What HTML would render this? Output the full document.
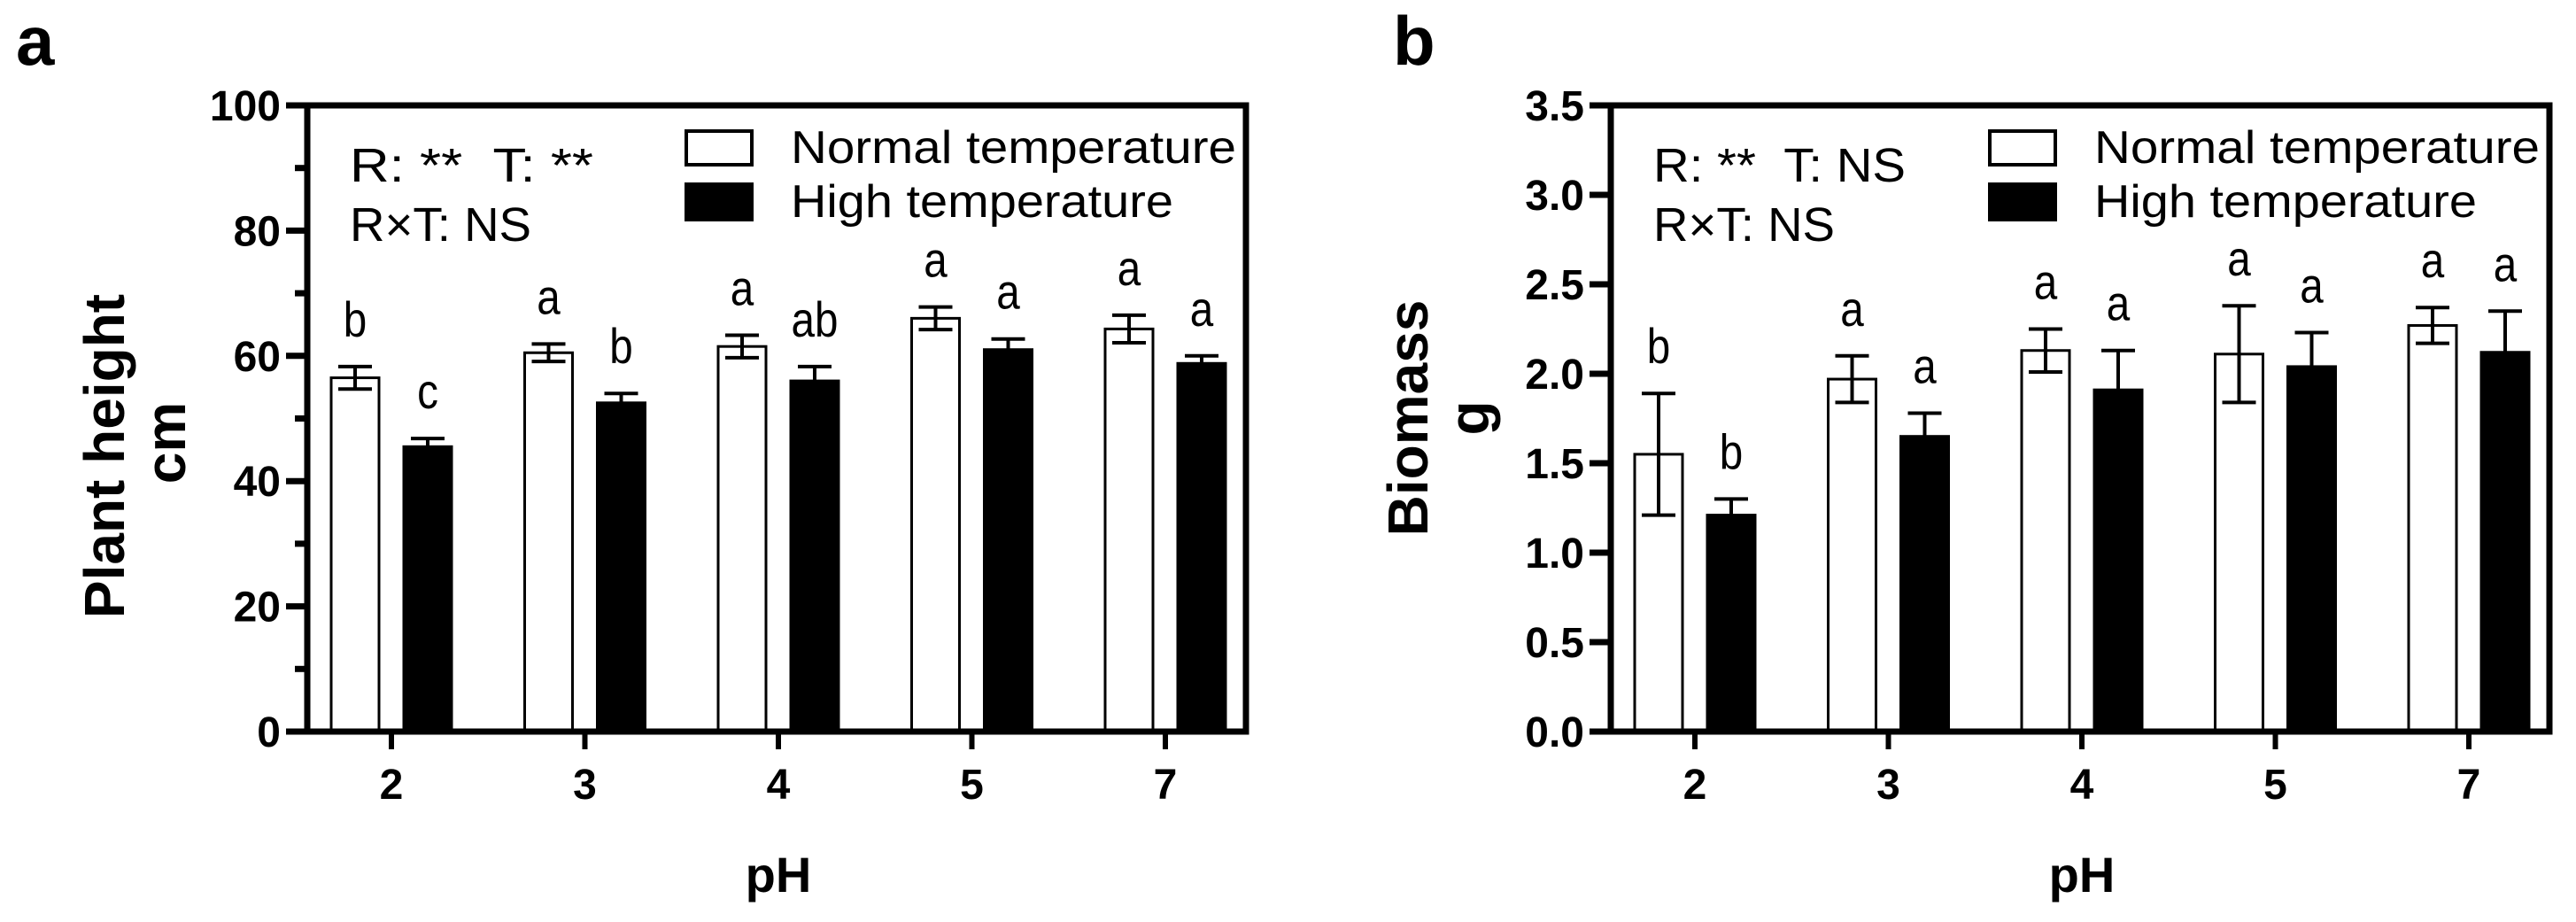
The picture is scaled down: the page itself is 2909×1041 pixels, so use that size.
<!DOCTYPE html>
<html><head><meta charset="utf-8"><style>
html,body{margin:0;padding:0;background:#fff;}
svg{display:block;}
text{font-family:"Liberation Sans",Arial,sans-serif;fill:#000;}
</style></head><body>
<svg id="fig" width="2909" height="1041" viewBox="0 0 2909 1041" xmlns="http://www.w3.org/2000/svg"></svg>
<script>
const categories = ["2","3","4","5","7"];
const heightNormal = [56.5, 60.5, 61.5, 66.0, 64.3];
const heightNormalErr = [1.8, 1.4, 1.8, 1.8, 2.2];
const heightHigh = [45.5, 52.5, 56.0, 61.0, 58.8];
const heightHighErr = [1.3, 1.5, 2.3, 1.7, 1.2];
const heightNormalLetters = ["b","a","a","a","a"];
const heightHighLetters = ["c","b","ab","a","a"];
const heightTicks = [0,20,40,60,80,100];
const biomassNormal = [1.55, 1.97, 2.13, 2.11, 2.27];
const biomassNormalErr = [0.34, 0.13, 0.12, 0.27, 0.10];
const biomassHigh = [1.21, 1.65, 1.91, 2.04, 2.12];
const biomassHighErr = [0.09, 0.13, 0.22, 0.19, 0.23];
const biomassNormalLetters = ["b","a","a","a","a"];
const biomassHighLetters = ["b","a","a","a","a"];
const biomassTicks = [0,0.5,1.0,1.5,2.0,2.5,3.0,3.5];

const NS="http://www.w3.org/2000/svg";
const svg=document.getElementById('fig');
function mk(tag,attrs,parent){const e=document.createElementNS(NS,tag);for(const k in attrs)e.setAttribute(k,attrs[k]);(parent||svg).appendChild(e);return e;}
function txt(s,attrs,parent){const e=mk('text',attrs,parent);e.textContent=s;return e;}

function panel(cfg){
  const g=mk('g',{});
  
  
  const L=cfg.x0, R=cfg.x0+1060, T=119, B=826;
  const yMax=cfg.ticks[cfg.ticks.length-1];
  const y=v=>B-(v/yMax)*(B-T);
  const gx=i=>L+95+218.5*i;
  const pl=txt(cfg.letter,{x:cfg.letterX,y:73,'font-size':78,'font-weight':'bold'},g);
  
  
  function series(vals,errs,letters,fill,off,nm){
    vals.forEach((v,i)=>{
      const cx=gx(i)+off, w=54;
      const r=mk('rect',{x:cx-w/2,y:y(v),width:w,height:B-y(v),fill:fill,stroke:'#000','stroke-width':3},g);
      
      
      const top=y(v+errs[i]), bot=y(v-errs[i]);
      const eb=mk('path',{d:`M${cx},${top}V${bot}M${cx-19},${top}H${cx+19}M${cx-19},${bot}H${cx+19}`,stroke:'#000','stroke-width':4,fill:'none'},g);
      
      
      const lt=txt(letters[i],{x:cx,y:top-34,'font-size':56,'text-anchor':'middle',transform:`translate(${cx},0) scale(0.85,1) translate(${-cx},0)`},g);
      
      
    });
  }
  series(cfg.normal,cfg.normalErr,cfg.normalLetters,'#fff',-41,'normal');
  series(cfg.high,cfg.highErr,cfg.highLetters,'#000',41,'high');
  const fr=mk('rect',{x:L,y:T,width:R-L,height:B-T,fill:'none',stroke:'#000','stroke-width':7},g);
  
  
  cfg.ticks.forEach((t,i)=>{
    mk('line',{x1:L-24,x2:L,y1:y(t),y2:y(t),stroke:'#000','stroke-width':7},g);
    const tl=txt(cfg.fmt(t),{x:L-30,y:y(t)+17,'font-size':48,'font-weight':'bold','text-anchor':'end'},g);
    
    
    if(cfg.minor && i<cfg.ticks.length-1){
      const m=(t+cfg.ticks[i+1])/2;
      mk('line',{x1:L-14,x2:L,y1:y(m),y2:y(m),stroke:'#000','stroke-width':7},g);
    }
  });
  categories.forEach((c,i)=>{
    mk('line',{x1:gx(i),x2:gx(i),y1:B,y2:B+20,stroke:'#000','stroke-width':6},g);
    const xl=txt(c,{x:gx(i),y:902,'font-size':48,'font-weight':'bold','text-anchor':'middle'},g);
    
    
  });
  const xt=txt('pH',{x:L+532,y:1007,'font-size':56,'font-weight':'bold','text-anchor':'middle'},g);
  
  
  const yt=txt(cfg.ytitle,{x:0,y:0,'font-size':64,'font-weight':'bold','text-anchor':'middle',transform:`translate(${L-207},${cfg.ytitleY}) rotate(-90)`},g);
  
  
  const yu=txt(cfg.yunit,{x:0,y:0,'font-size':64,'font-weight':'bold','text-anchor':'middle',transform:`translate(${L-138},${cfg.yunitY}) rotate(-90)`},g);
  
  
  const s1=txt(cfg.stat1,{x:L+48,y:205,'font-size':54,textLength:cfg.stat1Len,lengthAdjust:'spacingAndGlyphs','xml:space':'preserve'},g);
  
  
  const s2=txt('R×T: NS',{x:L+48,y:272,'font-size':54,textLength:205,lengthAdjust:'spacingAndGlyphs'},g);
  
  
  const lg=mk('g',{},g);
  
  
  const b1=mk('rect',{x:L+428,y:148,width:74,height:38,fill:'#fff',stroke:'#000','stroke-width':4},lg);
  
  
  const t1=txt('Normal temperature',{x:L+546,y:184,'font-size':52,textLength:503,lengthAdjust:'spacingAndGlyphs'},lg);
  
  
  const b2=mk('rect',{x:L+428,y:208,width:74,height:40,fill:'#000',stroke:'#000','stroke-width':4},lg);
  
  
  const t2=txt('High temperature',{x:L+546,y:245,'font-size':52,textLength:432,lengthAdjust:'spacingAndGlyphs'},lg);
  
  
}

panel({name:'plant-height-chart',x0:347,letter:'a',letterX:18,ticks:heightTicks,minor:true,fmt:t=>String(t),
  normal:heightNormal,normalErr:heightNormalErr,high:heightHigh,highErr:heightHighErr,
  normalLetters:heightNormalLetters,highLetters:heightHighLetters,
  ytitle:'Plant height',ytitleY:515,yunit:'cm',yunitY:500,stat1:'R: **\u00a0\u00a0T: **',stat1Len:275});
panel({name:'biomass-chart',x0:1819,letter:'b',letterX:1573,ticks:biomassTicks,minor:false,fmt:t=>t.toFixed(1),
  normal:biomassNormal,normalErr:biomassNormalErr,high:biomassHigh,highErr:biomassHighErr,
  normalLetters:biomassNormalLetters,highLetters:biomassHighLetters,
  ytitle:'Biomass',ytitleY:472,yunit:'g',yunitY:472,stat1:'R: **\u00a0\u00a0T: NS',stat1Len:285});
</script>
</body></html>
